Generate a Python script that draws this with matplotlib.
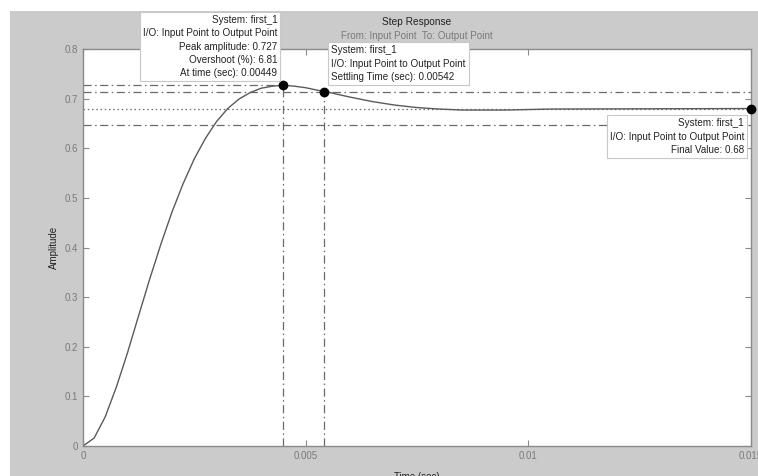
import matplotlib.pyplot as plt
import numpy as np
from matplotlib.patches import Rectangle

plt.rcParams['font.family'] = ['Liberation Sans', 'DejaVu Sans']

# step response (time in ms, amplitude)
t_ms = [0, 0.25, 0.5, 0.75, 1.0, 1.25, 1.5, 1.75, 2.0, 2.25, 2.5, 2.75, 3.0,
        3.25, 3.5, 3.75, 4.0, 4.25, 4.49, 4.75, 5.0, 5.42, 5.5, 6.0, 6.5,
        7.0, 7.5, 8.0, 8.5, 9.0, 9.5, 10.0, 10.5, 15.0]
amp = [0, 0.016, 0.059, 0.119, 0.188, 0.263, 0.337, 0.407, 0.472, 0.529,
       0.579, 0.620, 0.654, 0.680, 0.699, 0.712, 0.721, 0.725, 0.727, 0.725,
       0.722, 0.714, 0.713, 0.703, 0.694, 0.687, 0.682, 0.679, 0.677, 0.677,
       0.677, 0.678, 0.679, 0.680]

peak_time = 0.00449
peak_amp = 0.727
settle_time = 0.00542
settle_amp = 0.714
final_value = 0.68
band_hi = 0.714
band_lo = 0.646
t_end = 0.015

yticks = [0, 0.1, 0.2, 0.3, 0.4, 0.5, 0.6, 0.7, 0.8]
ytick_labels = ['0', '0.1', '0.2', '0.3', '0.4', '0.5', '0.6', '0.7', '0.8']
xticks = [0, 0.005, 0.01, 0.015]
xtick_labels = ['0', '0.005', '0.01', '0.015']

tip_peak = ("System: first_1\nI/O: Input Point to Output Point\n"
            "Peak amplitude: 0.727\nOvershoot (%): 6.81\nAt time (sec): 0.00449")
tip_settle = ("System: first_1\nI/O: Input Point to Output Point\n"
              "Settling Time (sec): 0.00542")
tip_final = ("System: first_1\nI/O: Input Point to Output Point\n"
             "Final Value: 0.68")

t = np.array(t_ms) / 1000.0
y = np.array(amp)

fig = plt.figure(figsize=(7.58, 4.76), dpi=100, facecolor='white')
fig.patches.append(Rectangle((10 / 758, 0), 1, (476 - 11) / 476,
                             transform=fig.transFigure, facecolor='#cbcbcb',
                             edgecolor='none', zorder=-5))
ax = fig.add_axes([83 / 758, (476 - 446) / 476, (751 - 83) / 758, (446 - 49) / 476])
ax.set_facecolor('white')

gray = '#6a6a6a'
dd = (0, (6.5, 2.8, 1.2, 2.8))

# reference lines
ax.plot([0, t_end], [final_value, final_value], color=gray, lw=0.9, ls=(0, (1.2, 2.2)))
ax.plot([0, peak_time], [peak_amp, peak_amp], color=gray, lw=0.9, ls=dd)
ax.plot([0, t_end], [band_hi, band_hi], color=gray, lw=0.9, ls=dd)
ax.plot([0, t_end], [band_lo, band_lo], color=gray, lw=0.9, ls=dd)
ax.plot([peak_time, peak_time], [0, peak_amp], color=gray, lw=0.9, ls=dd)
ax.plot([settle_time, settle_time], [0, settle_amp], color=gray, lw=0.9, ls=dd)

# response
ax.plot(t, y, color='#5a5a5a', lw=1.0)

ax.plot([peak_time], [peak_amp], 'o', color='black', ms=6, zorder=5)
ax.plot([settle_time], [settle_amp], 'o', color='black', ms=6, zorder=5)
ax.plot([t_end], [final_value], 'o', color='black', ms=6, zorder=5, clip_on=False)

fs = 7.1
box = dict(boxstyle='square,pad=0.3', facecolor='white', edgecolor='#c8c8c8', lw=0.8)
ax.annotate(tip_peak, xy=(peak_time, peak_amp), xytext=(-4, 5), textcoords='offset points',
            ha='right', va='bottom', multialignment='right', fontsize=fs,
            color='#222222', bbox=box, linespacing=1.42, zorder=6)
ax.annotate(tip_settle, xy=(settle_time, settle_amp), xytext=(5, 7), textcoords='offset points',
            ha='left', va='bottom', multialignment='left', fontsize=fs,
            color='#222222', bbox=box, linespacing=1.42, zorder=6)
ax.annotate(tip_final, xy=(t_end, final_value), xytext=(-5, -7), textcoords='offset points',
            ha='right', va='top', multialignment='right', fontsize=fs,
            color='#222222', bbox=box, linespacing=1.42, zorder=6,
            annotation_clip=False)

ax.set_xlim(0, t_end)
ax.set_ylim(0, 0.8)
ax.set_xticks(xticks)
ax.set_xticklabels(xtick_labels)
ax.set_yticks(yticks)
ax.set_yticklabels(ytick_labels)
ax.tick_params(direction='in', length=4, width=0.8, colors='#8a8a8a', labelsize=7,
               top=True, right=True, labelcolor='#7a7a7a')
for s in ax.spines.values():
    s.set_color('#8a8a8a')
    s.set_linewidth(1.0)

ax.set_xlabel('Time (sec)', fontsize=7, color='#222222', labelpad=8)
ax.set_ylabel('Amplitude', fontsize=7, color='#222222', labelpad=4)
fig.text(0.5 * (83 + 751) / 758, 1 - 22 / 476, 'Step Response', ha='center', va='center',
         fontsize=7.3, color='#222222')
fig.text(0.5 * (83 + 751) / 758, 1 - 36 / 476, 'From: Input Point  To: Output Point',
         ha='center', va='center', fontsize=7.1, color='#7a7a7a')

fig.savefig('out.png', dpi=100, facecolor=fig.get_facecolor())
